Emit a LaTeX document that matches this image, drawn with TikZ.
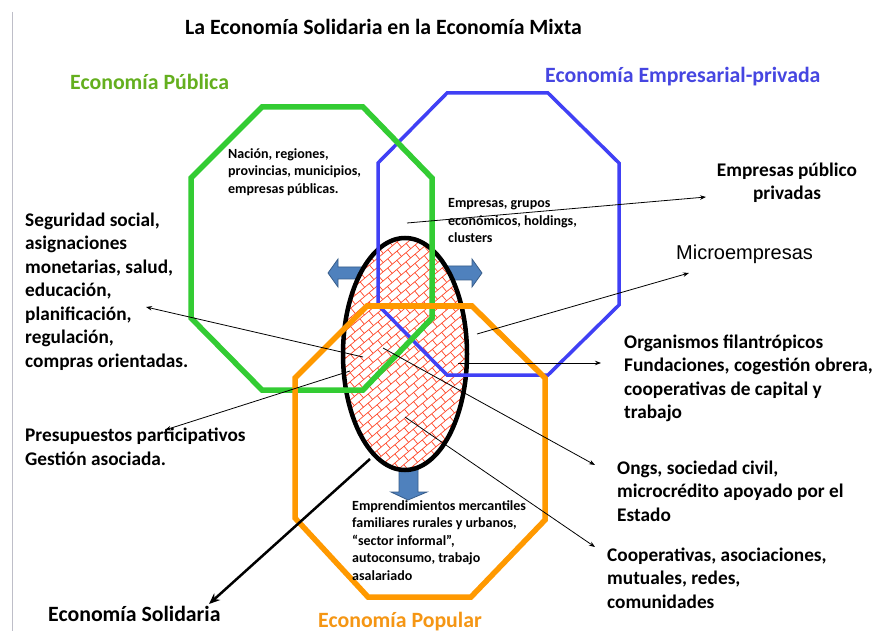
\documentclass[tikz,border=0pt]{standalone}
\usepackage{fontspec}
\setmainfont{Carlito}
\newfontfamily\arialfont{Liberation Sans}
\usetikzlibrary{arrows.meta}
\definecolor{octgreen}{RGB}{51,204,51}
\definecolor{octblue}{RGB}{64,64,245}
\definecolor{octorange}{RGB}{255,153,0}
\definecolor{headgreen}{RGB}{100,175,30}
\definecolor{headblue}{RGB}{70,70,225}
\definecolor{headorange}{RGB}{245,150,20}
\definecolor{arrowfill}{RGB}{79,129,189}
\definecolor{arrowline}{RGB}{56,93,138}
\definecolor{brickred}{RGB}{255,70,40}
\definecolor{edgegray}{RGB}{190,190,200}
\begin{document}
\begin{tikzpicture}[x=1pt,y=-1pt,
  heading/.style={font=\fontsize{21.8}{26}\selectfont\bfseries, inner sep=0pt},
  bodytext/.style={font=\fontsize{19.3}{23.5}\selectfont\bfseries, align=left, inner sep=0pt, anchor=base west},
  smalltext/.style={font=\fontsize{14}{17.5}\selectfont\bfseries, align=left, inner sep=0pt, anchor=base west},
  pointer/.style={draw=black, line width=0.8pt, -{Stealth[length=6pt,width=4.5pt]}},
  blockarrow/.style={fill=arrowfill, draw=arrowline, line width=0.8pt},
  brick/.style={draw=brickred, line width=0.7pt}
]
\useasboundingbox (0,0) rectangle (876,631);
\fill[white] (0,0) rectangle (876,631);
\draw[edgegray, line width=1pt] (12,12) -- (12,631);

% block arrows
\path[blockarrow] (328,273) -- (338,259) -- (338,267) -- (370,267) -- (370,279) -- (338,279) -- (338,287) -- cycle;
\path[blockarrow] (482,273) -- (472,259) -- (472,266) -- (440,266) -- (440,280) -- (472,280) -- (472,287) -- cycle;
\path[blockarrow] (408,500) -- (391,492) -- (399,492) -- (399,455) -- (418,455) -- (418,492) -- (427,492) -- cycle;

% ellipse with brick fill
\fill[white] (405,354) ellipse [x radius=62pt, y radius=116pt];
\begin{scope}
\clip (405,354) ellipse [x radius=62pt, y radius=116pt];
\begin{scope}[shift={(405,354)}, rotate=40]
\foreach \i in {-20,...,19} {
  \draw[brick] (-170,\i*7) -- (170,\i*7);
  \pgfmathtruncatemacro\off{mod(\i+40,2)*6}
  \foreach \j in {-15,...,14} \draw[brick] (\j*12+\off,\i*7) -- (\j*12+\off,\i*7+7);
}
\end{scope}
\end{scope}
\draw[line width=4.5pt] (405,354) ellipse [x radius=62pt, y radius=116pt];

% octagons
\draw[octblue, line width=3.5pt] (447,93) -- (548,93) -- (619,163) -- (619,305) -- (548,375) -- (447,375) -- (378,305) -- (378,163) -- cycle;
\draw[octgreen, line width=5.5pt] (262,107) -- (363,107) -- (432,178) -- (432,318) -- (363,390) -- (262,390) -- (191,318) -- (191,178) -- cycle;
\draw[octorange, line width=5.5pt] (367,306) -- (472,306) -- (545,378) -- (545,520) -- (471,597) -- (368,597) -- (295,518) -- (295,378) -- cycle;

% texts (multi-line nodes anchored at the baseline of their last line)
\node[heading, anchor=base] (title) at (383.5,35) {La Economía Solidaria en la Economía Mixta};
\node[heading, text=headgreen, anchor=base west] (pub) at (70,90) {Economía Pública};
\node[heading, text=headblue, anchor=base west] (priv) at (545,83) {Economía Empresarial-privada};
\node[heading, anchor=base west] (sol) at (48,621) {Economía Solidaria};
\node[heading, text=headorange, anchor=base west] (pop) at (318,627) {Economía Popular};

\node[smalltext] (nacion) at (228,193.5) {Nación, regiones,\\provincias, municipios,\\empresas públicas.};
\node[smalltext] (empresas) at (448,243) {Empresas, grupos\\económicos, holdings,\\clusters};
\node[smalltext] (empr) at (352,580) {Emprendimientos mercantiles\\familiares rurales y urbanos,\\“sector informal”,\\autoconsumo, trabajo\\asalariado};

\node[bodytext, align=center, anchor=base] (pubpriv) at (787,200) {Empresas público\\privadas};
\node[font=\arialfont\fontsize{20}{24}\selectfont, anchor=base west, inner sep=0pt] (micro) at (676,260) {Microempresas};
\node[bodytext] (org) at (624,418.5) {Organismos filantrópicos\\Fundaciones, cogestión obrera,\\cooperativas de capital y\\trabajo};
\node[bodytext] (ongs) at (617,521) {Ongs, sociedad civil,\\microcrédito apoyado por el\\Estado};
\node[bodytext] (coop) at (607,608) {Cooperativas, asociaciones,\\mutuales, redes,\\comunidades};
\node[bodytext] (seg) at (25,367) {Seguridad social,\\asignaciones\\monetarias, salud,\\educación,\\planificación,\\regulación,\\compras orientadas.};
\node[bodytext] (pres) at (25,465) {Presupuestos participativos\\Gestión asociada.};

% connector end points
\coordinate (empStart) at (407,223); \coordinate (empTip) at (706,197);
\coordinate (microStart) at (477,334); \coordinate (microTip) at (689,273);
\coordinate (orgStart) at (458,363); \coordinate (orgTip) at (601,363);
\coordinate (segStart) at (363,357); \coordinate (segTip) at (146,307);
\coordinate (presStart) at (350,371); \coordinate (presTip) at (165,430);
\coordinate (ongStart) at (383,348); \coordinate (ongTip) at (595,465);
\coordinate (coopStart) at (405,417); \coordinate (coopTip) at (595,547);
\coordinate (solStart) at (370,459); \coordinate (solTip) at (209,604);

\draw[pointer] (empStart) -- (empTip);
\draw[pointer] (microStart) -- (microTip);
\draw[pointer] (orgStart) -- (orgTip);
\draw[pointer] (segStart) -- (segTip);
\draw[pointer] (presStart) -- (presTip);
\draw[pointer] (ongStart) -- (ongTip);
\draw[pointer] (coopStart) -- (coopTip);
\draw[line width=2.5pt, -{Stealth[length=11pt,width=9pt]}] (solStart) -- (solTip);
\end{tikzpicture}
\end{document}
